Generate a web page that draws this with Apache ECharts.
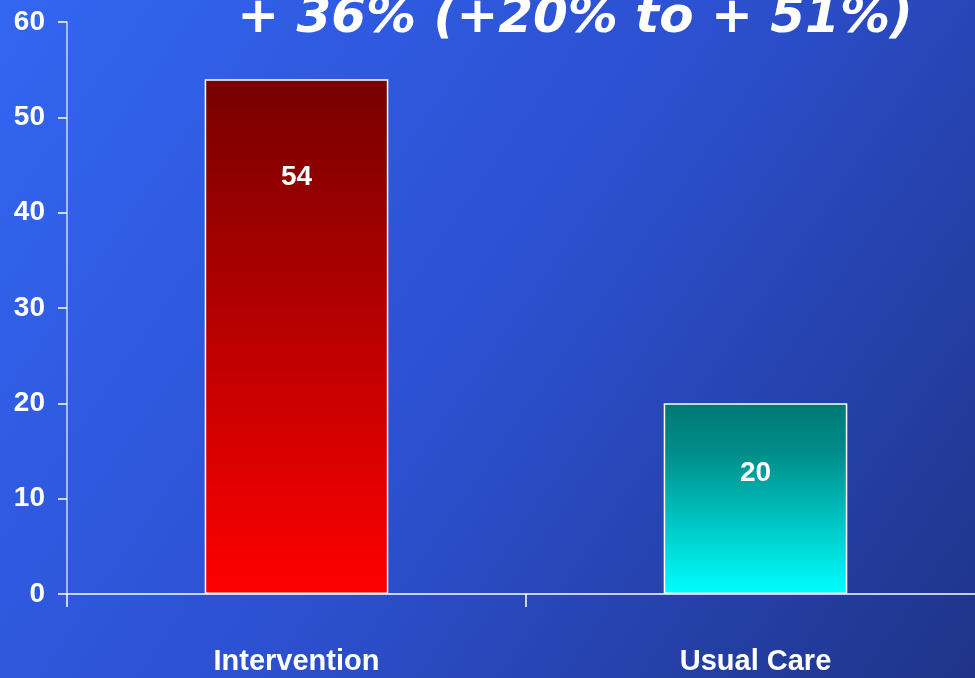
<!DOCTYPE html>
<html>
<head>
<meta charset="utf-8">
<script src="https://cdn.jsdelivr.net/npm/echarts@6/dist/echarts.min.js"></script>
<style>html,body{margin:0;padding:0;}#chart{width:975px;height:678px;}</style>
</head>
<body>
<div id="chart"></div>
<script>
const categories = ['Intervention', 'Usual Care'];
const values = [54, 20];
const yTicks = [0, 10, 20, 30, 40, 50, 60];
const titleText = '+ 36% (+20% to + 51%)';

const chart = echarts.init(document.getElementById('chart'));
const grads = [
  new echarts.graphic.LinearGradient(0, 0, 0, 1, [{offset: 0, color: '#760000'}, {offset: 1, color: '#ff0000'}]),
  new echarts.graphic.LinearGradient(0, 0, 0, 1, [{offset: 0, color: '#007874'}, {offset: 0.25, color: '#008c88'}, {offset: 1, color: '#00ffff'}])
];
const labelDist = [84, 56];
const fontFam = '"Liberation Sans", Arial, sans-serif';
chart.setOption({
  backgroundColor: new echarts.graphic.LinearGradient(0, 0, 1, 1, [
    {offset: 0, color: '#3366f2'},
    {offset: 0.5, color: '#2c50d0'},
    {offset: 1, color: '#1f3488'}
  ]),
  animation: false,
  graphic: [{
    type: 'text', x: 575, y: 19, z: 10,
    style: {
      text: titleText, fill: '#ffffff', align: 'center', verticalAlign: 'middle',
      font: 'italic bold 50px "DejaVu Sans"',
      textShadowColor: '#000000', textShadowOffsetX: 3, textShadowOffsetY: 3, textShadowBlur: 0
    }
  }],
  grid: {left: 67, top: 22, bottom: 84, width: 918, containLabel: false, outerBoundsMode: 'none'},
  xAxis: {
    type: 'category', data: categories,
    axisLine: {lineStyle: {color: '#ffffff', width: 1.5}},
    axisTick: {show: true, length: 13, lineStyle: {color: '#ffffff', width: 1.5}},
    axisLabel: {color: '#ffffff', fontFamily: fontFam, fontWeight: 'bold', fontSize: 29, margin: 53}
  },
  yAxis: {
    type: 'value', min: 0, max: 60, interval: 10,
    splitLine: {show: false},
    axisLine: {show: true, lineStyle: {color: 'rgba(255,255,255,0.75)', width: 1.5}},
    axisTick: {show: true, length: 9, lineStyle: {color: '#ffffff', width: 1.5}},
    axisLabel: {color: '#ffffff', fontFamily: fontFam, fontWeight: 'bold', fontSize: 28, margin: 22,
      formatter: v => yTicks.includes(v) ? String(v) : ''}
  },
  series: [{
    type: 'bar', barWidth: '40%',
    data: values.map((v, i) => ({
      value: v,
      itemStyle: {color: grads[i], borderColor: '#ffffff', borderWidth: 1.5},
      label: {show: true, position: 'insideTop', distance: labelDist[i], color: '#ffffff',
        fontFamily: fontFam, fontWeight: 'bold', fontSize: 28}
    }))
  }]
});
</script>
</body>
</html>
